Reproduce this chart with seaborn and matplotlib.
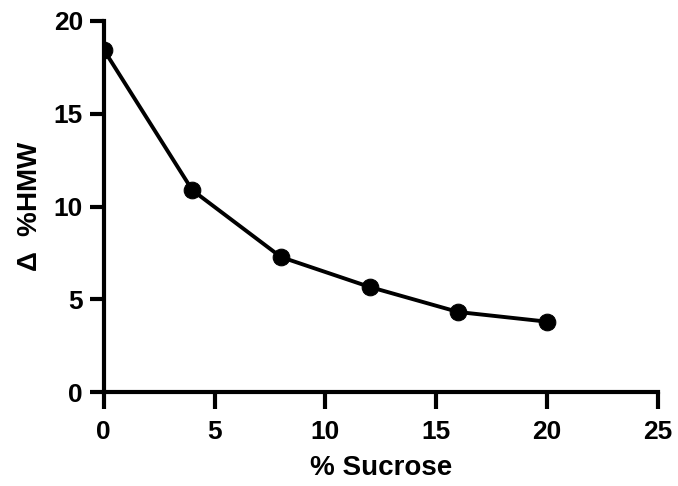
import matplotlib
matplotlib.use("Agg")
import matplotlib.pyplot as plt
import seaborn as sns
import pandas as pd

sucrose = [0, 4, 8, 12, 16, 20]
delta_hmw = [18.45, 10.88, 7.28, 5.67, 4.32, 3.8]
x_ticks = [0, 5, 10, 15, 20, 25]
y_ticks = [0, 5, 10, 15, 20]

sns.set_theme(style="ticks")
plt.rcParams['font.family'] = ['Liberation Sans', 'DejaVu Sans']
plt.rcParams['font.weight'] = 'bold'
plt.rcParams['text.color'] = 'black'
plt.rcParams['xtick.color'] = 'black'
plt.rcParams['ytick.color'] = 'black'
plt.rcParams['axes.labelcolor'] = 'black'
plt.rcParams['mathtext.fontset'] = 'custom'
plt.rcParams['mathtext.rm'] = 'Liberation Sans'
plt.rcParams['mathtext.it'] = 'Liberation Sans'

df = pd.DataFrame({"sucrose": sucrose, "hmw": delta_hmw})

fig = plt.figure(figsize=(6.78, 4.86), dpi=100)
ax = fig.add_axes([0.153, 0.193, 0.817, 0.764])
sns.lineplot(data=df, x="sucrose", y="hmw", ax=ax, color="black", linewidth=2.8,
             marker="o", markersize=12, markeredgecolor="black", markerfacecolor="black")
ax.set_xlim(0, 25)
ax.set_ylim(0, 20)
ax.set_xticks(x_ticks)
ax.set_yticks(y_ticks)
for s in ["top", "right"]:
    ax.spines[s].set_visible(False)
for s in ["left", "bottom"]:
    ax.spines[s].set_linewidth(3)
    ax.spines[s].set_color("black")
ax.tick_params(axis="both", width=3, length=10, color="black", labelsize=19, pad=5,
               labelcolor="black")
ax.tick_params(axis="x", length=12, pad=8)
for lab in ax.get_xticklabels() + ax.get_yticklabels():
    lab.set_fontweight("bold")
ax.set_xlabel("% Sucrose", fontsize=20, fontweight="bold", labelpad=8, color="black")
ax.set_ylabel(r"$\Delta$  %HMW", fontsize=20, fontweight="bold", labelpad=8, color="black")
fig.savefig("out.png", dpi=100)
